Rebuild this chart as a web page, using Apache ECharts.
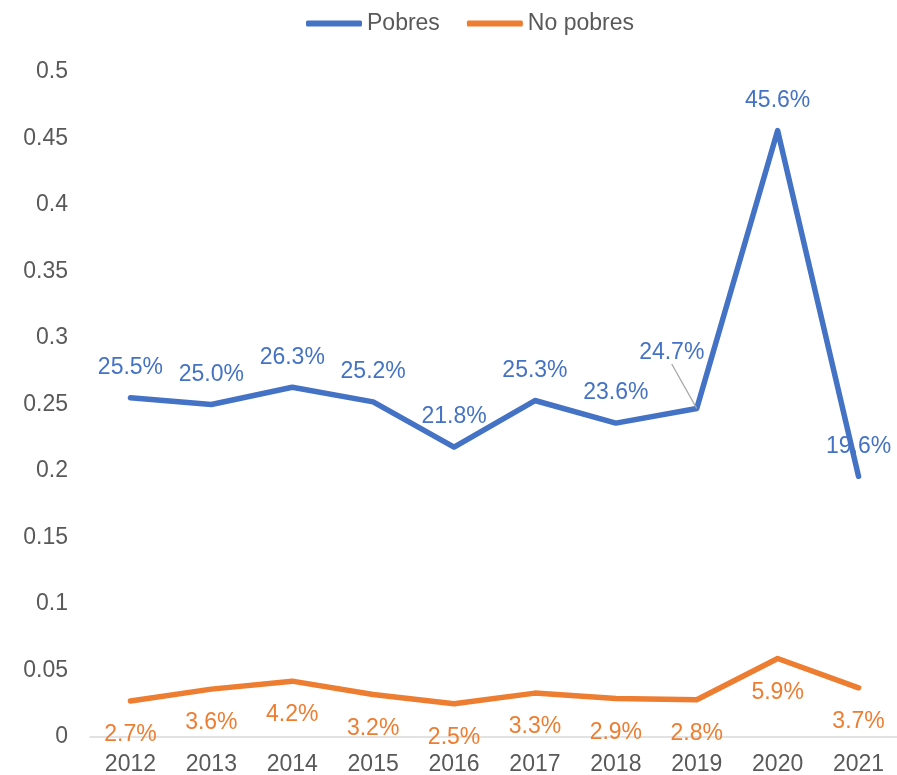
<!DOCTYPE html>
<html>
<head>
<meta charset="utf-8">
<script src="https://cdn.jsdelivr.net/npm/echarts@6/dist/echarts.min.js"></script>
<style>html,body{margin:0;padding:0;background:#fff}#c{width:897px;height:775px}</style>
</head>
<body>
<div id="c"></div>
<script>
const years = ['2012','2013','2014','2015','2016','2017','2018','2019','2020','2021'];
const pobres = [0.255,0.250,0.263,0.252,0.218,0.253,0.236,0.247,0.456,0.196];
const noPobres = [0.027,0.036,0.042,0.032,0.025,0.033,0.029,0.028,0.059,0.037];
const yTicks = ['0','0.05','0.1','0.15','0.2','0.25','0.3','0.35','0.4','0.45','0.5'];

const FONT = '"Liberation Sans", Arial, sans-serif';
const BLUE = '#4472C4', ORANGE = '#ED7D31', GREY = '#595959';
const pct = p => (p.value * 100).toFixed(1) + '%';

const pobresData = pobres.map((v, i) => {
  if (i === 4) return { value: v, label: { offset: [0, 25] } };
  if (i === 7) return { value: v, labelLine: { show: true, lineStyle: { color: '#A6A6A6', width: 1.3 } } };
  return v;
});

const chart = echarts.init(document.getElementById('c'), null, { renderer: 'canvas' });
chart.setOption({
  animation: false,
  textStyle: { fontFamily: FONT },
  legend: {
    left: 301, top: 7,
    icon: 'roundRect', itemWidth: 56, itemHeight: 6, itemGap: 27,
    textStyle: { fontSize: 23, color: GREY, fontFamily: FONT },
    data: ['Pobres', 'No pobres']
  },
  grid: { left: 90, right: -2, top: 72, bottom: 38, containLabel: false, outerBoundsMode: 'none' },
  xAxis: {
    type: 'category', data: years, boundaryGap: true,
    axisLine: { show: true, lineStyle: { color: '#D9D9D9', width: 1.5 } },
    axisTick: { show: false },
    axisLabel: { fontSize: 23, color: GREY, margin: 16, fontFamily: FONT },
    splitLine: { show: false }
  },
  yAxis: {
    type: 'value', min: 0, max: 0.5, interval: 0.05,
    axisLine: { show: false }, axisTick: { show: false },
    splitLine: { show: false },
    axisLabel: { fontSize: 23, color: GREY, margin: 22, fontFamily: FONT,
      formatter: (v) => { const i = Math.round(v / 0.05); return yTicks[i]; } }
  },
  series: [
    {
      name: 'Pobres', type: 'line', data: pobresData,
      symbol: 'circle', symbolSize: 0.01, showSymbol: true, showAllSymbol: true,
      lineStyle: { color: BLUE, width: 5.5, cap: 'round', join: 'round' },
      itemStyle: { color: BLUE },
      label: { show: true, position: 'top', distance: 18.5, fontSize: 23, color: BLUE, fontFamily: FONT, formatter: pct },
      labelLayout: (params) => params.dataIndex === 7 ? { dx: -25, dy: -26 } : {},
      z: 3
    },
    {
      name: 'No pobres', type: 'line', data: noPobres,
      symbol: 'circle', symbolSize: 0.01, showSymbol: true, showAllSymbol: true,
      lineStyle: { color: ORANGE, width: 5.5, cap: 'round', join: 'round' },
      itemStyle: { color: ORANGE },
      label: { show: true, position: 'bottom', distance: 22.5, fontSize: 23, color: ORANGE, fontFamily: FONT, formatter: pct },
      z: 2
    }
  ]
});
</script>
</body>
</html>
